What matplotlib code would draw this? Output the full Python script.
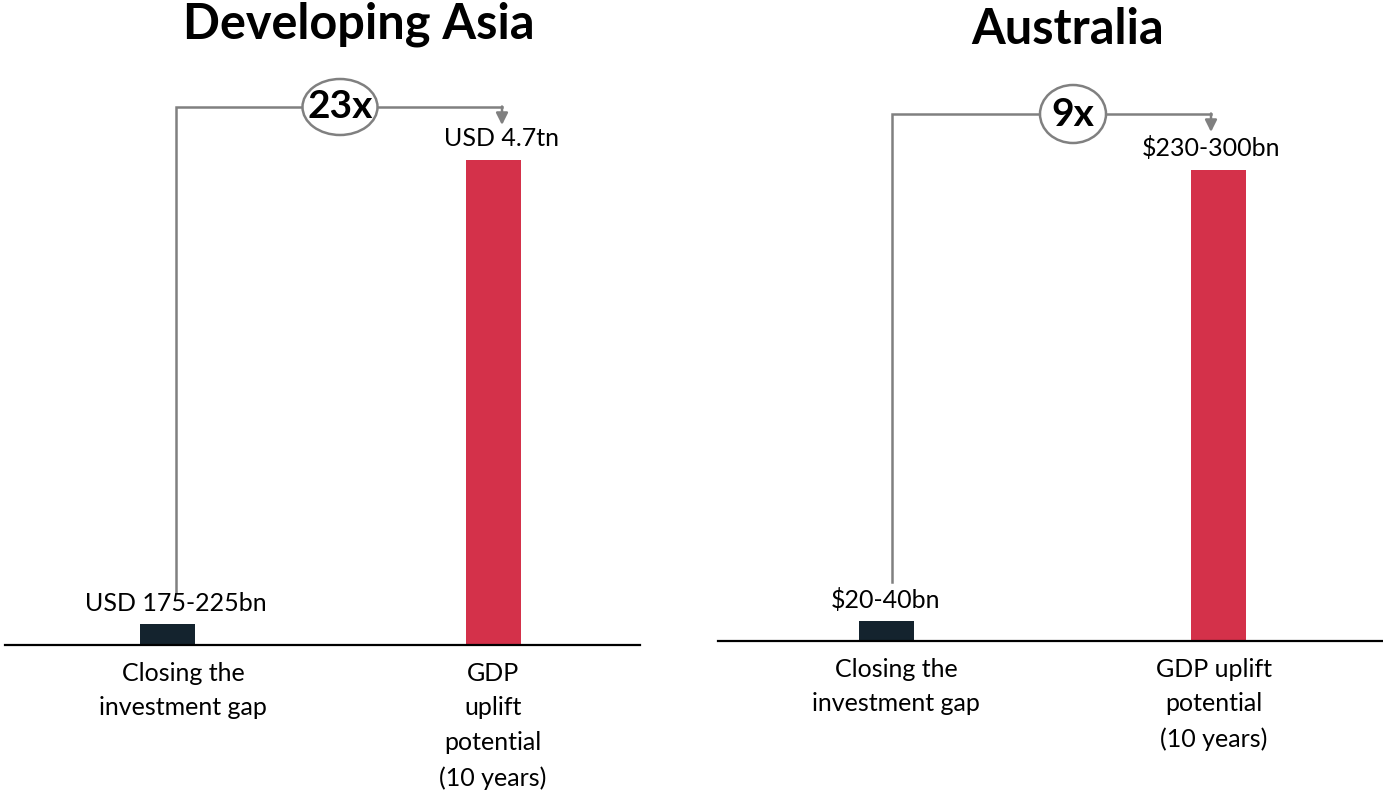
import matplotlib.pyplot as plt
from matplotlib.patches import Ellipse

plt.rcParams['font.family'] = ['Lato', 'DejaVu Sans']

# data
categories_asia = ["Closing the\ninvestment gap", "GDP\nuplift\npotential\n(10 years)"]
values_asia = [200, 4700]            # USD bn (midpoint of range)
labels_asia = ["USD 175-225bn", "USD 4.7tn"]
multiple_asia = "23x"

categories_aus = ["Closing the\ninvestment gap", "GDP uplift\npotential\n(10 years)"]
values_aus = [11, 265]               # bar heights as drawn
labels_aus = ["$20-40bn", "$230-300bn"]
multiple_aus = "9x"

dark = "#14232e"
red = "#d4314a"
grey = "#808080"

W, H = 1383, 799
fig = plt.figure(figsize=(W / 100, H / 100), dpi=100)


def panel(px0, px1, base, cats, vals, labels, mult, title, top_px, bar_c,
          tick_c, lab_c, conn_x, conn_y, start_gap, ell, title_xy):
    unit = bar_c[1] - bar_c[0]
    tox = lambda px: (px - bar_c[0]) / unit
    ax = fig.add_axes([px0 / W, (H - base) / H, (px1 - px0) / W, base / H])
    ax.set_xlim(tox(px0), tox(px1))
    per_px = vals[1] / (base - top_px)
    toy = lambda py: (base - py) * per_px
    ax.set_ylim(0, base * per_px)
    ax.bar([0, 1], vals, width=55 / unit, color=[dark, red], zorder=2)
    for s in ["left", "right", "top"]:
        ax.spines[s].set_visible(False)
    ax.spines["bottom"].set_linewidth(1.6)
    ax.set_yticks([])
    ax.set_xticks([tox(tick_c[0]), tox(tick_c[1])])
    ax.set_xticklabels(cats, fontsize=18, linespacing=1.62)
    ax.tick_params(axis="x", length=0, pad=12)

    for i, (v, lab) in enumerate(zip(vals, labels)):
        ax.annotate(lab, (tox(lab_c[i]), v), xytext=(0, 7), textcoords="offset points",
                    ha="center", va="bottom", fontsize=18)

    # connector
    x0, x1 = tox(conn_x[0]), tox(conn_x[1])
    y_top = toy(conn_y)
    y_start = vals[0] + start_gap * per_px
    ax.plot([x0, x0, x1], [y_start, y_top, y_top], color=grey, lw=1.8,
            solid_joinstyle="miter", clip_on=False)
    ax.annotate("", xy=(x1, y_top - 18 * per_px), xytext=(x1, y_top + 0.5 * per_px),
                arrowprops=dict(arrowstyle="-|>,head_length=0.7,head_width=0.35",
                                color=grey, lw=1.8, shrinkA=0, shrinkB=0))
    xm = tox(ell[0])
    ax.add_patch(Ellipse((xm, y_top), ell[1] / unit, ell[2] * per_px,
                         facecolor="white", edgecolor=grey, lw=1.8, zorder=3,
                         clip_on=False))
    ax.text(xm, y_top, mult, ha="center", va="center", fontsize=28,
            fontweight="bold", zorder=4)
    fig.text(title_xy[0] / W, 1 - title_xy[1] / H, title, ha="center", va="center",
             fontsize=35, fontweight="bold")
    return ax


panel(5, 640, 645, categories_asia, values_asia, labels_asia, multiple_asia,
      "Developing Asia", 160, (167, 493), (183, 493), (176, 502), (176, 502), 107,
      32, (340, 75, 56), (359, 24))
panel(718, 1383, 641, categories_aus, values_aus, labels_aus, multiple_aus,
      "Australia", 170, (886, 1218), (896, 1214), (886, 1211), (892, 1211), 114,
      39, (1073, 66, 58), (1068, 30))

fig.savefig("out.png", dpi=100)
